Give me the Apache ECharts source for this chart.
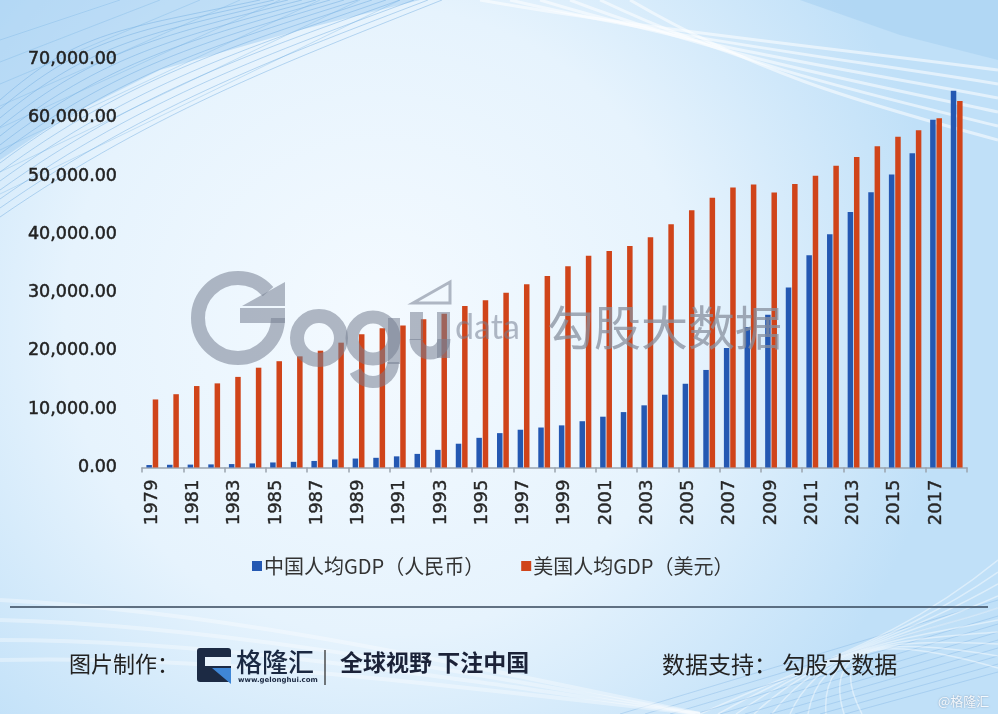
<!DOCTYPE html>
<html>
<head>
<meta charset="utf-8">
<script src="https://cdn.jsdelivr.net/npm/echarts@6/dist/echarts.min.js"></script>
<style>
html,body{margin:0;padding:0;background:#eaf5fd;}
#main{width:998px;height:714px;}
</style>
</head>
<body>
<div id="main"></div>
<script>
// ---- data ----
const years = ['1979','1980','1981','1982','1983','1984','1985','1986','1987','1988','1989','1990','1991','1992','1993','1994','1995','1996','1997','1998','1999','2000','2001','2002','2003','2004','2005','2006','2007','2008','2009','2010','2011','2012','2013','2014','2015','2016','2017','2018'];
const chinaGDP = [423,468,497,533,588,702,866,973,1123,1378,1536,1663,1912,2334,3027,4081,5091,5898,6481,6860,7229,7942,8717,9506,10666,12487,14368,16738,20505,24121,26222,30876,36403,40007,43852,47203,50251,53935,59660,64644];
const usGDP = [11674,12575,13976,14434,15544,17121,18237,19071,20039,21417,22857,23889,24342,25419,26387,27695,28691,29968,31459,32854,34515,36335,37133,38023,39496,41713,44115,46299,48050,48570,47195,48651,50066,51784,53291,55124,56763,57867,59915,62900];
const seriesNames = ['中国人均GDP（人民币）','美国人均GDP（美元）'];
const yMax = 70000, yStep = 10000;

// ---- decoration (background curves, not data) ----
const deco = [];
deco.push({type:'rect', z:-20, silent:true, shape:{x:0,y:0,width:998,height:714},
  style:{fill:{type:'radial',x:0.38,y:0.45,r:0.8,colorStops:[
    {offset:0,color:'#f4faff'},{offset:0.55,color:'#e6f3fd'},{offset:1,color:'#c0e0f8'}]}}});
// top-left blue band
deco.push({type:'polygon', z:-19, silent:true, shape:{points:[[0,0],[420,0],[300,30],[160,70],[60,120],[0,160]]},
  style:{fill:'rgba(150,200,240,0.45)'}});
for (let i=0;i<14;i++){
  const y0 = 100 + i*9, x1 = 260 + i*14;
  deco.push({type:'bezierCurve', z:-18, silent:true,
    shape:{x1:0,y1:y0,cpx1:80+i*6,cpy1:y0-70-i*3,cpx2:x1-140,cpy2:30+i*2,x2:x1,y2:0},
    style:{stroke:'rgba(110,170,225,0.45)',lineWidth:1,fill:null}});
}
for (let i=0;i<8;i++){
  deco.push({type:'line', z:-18, silent:true,
    shape:{x1:0,y1:40+i*22,x2:120+i*40,y2:0},
    style:{stroke:'rgba(120,180,230,0.35)',lineWidth:1}});
}
// top-right white streaks
for (let i=0;i<6;i++){
  deco.push({type:'bezierCurve', z:-18, silent:true,
    shape:{x1:480+i*30,y1:0,cpx1:650+i*20,cpy1:30+i*8,cpx2:850,cpy2:50+i*10,x2:998,y2:70+i*14},
    style:{stroke:'rgba(255,255,255,0.55)',lineWidth:3,fill:null}});
}
deco.push({type:'polygon', z:-19, silent:true, shape:{points:[[800,0],[998,0],[998,60],[900,35]]},
  style:{fill:'rgba(160,205,240,0.45)'}});
// bottom-right mesh
for (let i=0;i<10;i++){
  deco.push({type:'line', z:-18, silent:true,
    shape:{x1:620+i*25,y1:714,x2:998,y2:600+i*8},
    style:{stroke:'rgba(120,175,225,0.35)',lineWidth:1}});
  deco.push({type:'bezierCurve', z:-18, silent:true,
    shape:{x1:700+i*18,y1:714,cpx1:820,cpy1:660-i*3,cpx2:900,cpy2:640,x2:998,y2:560+i*12},
    style:{stroke:'rgba(255,255,255,0.45)',lineWidth:1.5,fill:null}});
}
// bottom-left light streaks
for (let i=0;i<4;i++){
  deco.push({type:'bezierCurve', z:-18, silent:true,
    shape:{x1:0,y1:600+i*20,cpx1:200,cpy1:610+i*15,cpx2:400,cpy2:650+i*10,x2:700,y2:714},
    style:{stroke:'rgba(255,255,255,0.35)',lineWidth:4,fill:null}});
}

// ---- watermark (on top of bars) ----
const wm = 'rgba(118,128,145,0.55)';
const watermark = [
  {type:'arc', z:50, silent:true, shape:{cx:238,cy:318,r:40,startAngle:0,endAngle:Math.PI*2-0.72,clockwise:true},
    style:{stroke:wm,lineWidth:14,fill:null}},
  {type:'rect', z:50, silent:true, shape:{x:240,y:308,width:45,height:15}, style:{fill:wm}},
  {type:'polygon', z:50, silent:true, shape:{points:[[242,306],[285,282],[285,306]]}, style:{fill:wm}},
  {type:'arc', z:50, silent:true, shape:{cx:319,cy:338,r:22,startAngle:0,endAngle:Math.PI*2}, style:{stroke:wm,lineWidth:14,fill:null}},
  {type:'arc', z:50, silent:true, shape:{cx:373,cy:338,r:21,startAngle:0,endAngle:Math.PI*2}, style:{stroke:wm,lineWidth:13,fill:null}},
  {type:'rect', z:50, silent:true, shape:{x:388,y:318,width:12,height:46}, style:{fill:wm}},
  {type:'arc', z:50, silent:true, shape:{cx:373,cy:362,r:20,startAngle:0,endAngle:Math.PI*0.85,clockwise:true}, style:{stroke:wm,lineWidth:12,fill:null}},
  {type:'rect', z:50, silent:true, shape:{x:410,y:312,width:13,height:28}, style:{fill:wm}},
  {type:'rect', z:50, silent:true, shape:{x:437,y:312,width:13,height:46}, style:{fill:wm}},
  {type:'arc', z:50, silent:true, shape:{cx:430,cy:339,r:14,startAngle:0,endAngle:Math.PI,clockwise:true}, style:{stroke:wm,lineWidth:13,fill:null}},
  {type:'polygon', z:50, silent:true, shape:{points:[[413,303],[450,282],[450,303]]}, style:{stroke:wm,lineWidth:3,fill:null}},
  {type:'text', z:50, silent:true, style:{x:455,y:328,text:'data',font:'34px Lato, "Noto Sans"',fill:wm,textVerticalAlign:'middle'}},
  {type:'text', z:50, silent:true, style:{x:547,y:327,text:'勾股大数据',font:'47px "Noto Sans CJK SC"',fill:'rgba(135,143,158,0.75)',textVerticalAlign:'middle'}}
];

// ---- footer ----
const footer = [
  {type:'line', z:5, silent:true, shape:{x1:10,y1:607,x2:988,y2:607}, style:{stroke:'#34465a',lineWidth:1.3}},
  {type:'text', z:5, silent:true, style:{x:69,y:664,text:'图片制作：',font:'22px "Noto Sans CJK SC"',fill:'#222',textVerticalAlign:'middle'}},
  {type:'rect', z:5, silent:true, shape:{x:197,y:648,width:34,height:34,r:3}, style:{fill:'#1c2a44'}},
  {type:'rect', z:6, silent:true, shape:{x:205,y:657,width:26,height:9}, style:{fill:'#e8f3fc'}},
  {type:'polygon', z:6, silent:true, shape:{points:[[212,668],[231,668],[231,684]]}, style:{fill:'#3f86d6'}},
  {type:'text', z:5, silent:true, style:{x:236,y:662,text:'格隆汇',font:'500 26px "Noto Sans CJK SC"',fill:'#1b2942',textVerticalAlign:'middle'}},
  {type:'text', z:5, silent:true, style:{x:238,y:680,text:'www.gelonghui.com',font:'bold 7px "DejaVu Sans"',fill:'#1b2942',textVerticalAlign:'middle'}},
  {type:'line', z:5, silent:true, shape:{x1:325,y1:650,x2:325,y2:685}, style:{stroke:'#222',lineWidth:1.2}},
  {type:'text', z:5, silent:true, style:{x:340,y:662,text:'全球视野 下注中国',font:'bold 23px "Noto Sans CJK SC"',fill:'#1b2238',textVerticalAlign:'middle'}},
  {type:'text', z:5, silent:true, style:{x:662,y:664,text:'数据支持： 勾股大数据',font:'23px "Noto Sans CJK SC"',fill:'#222',textVerticalAlign:'middle'}},
  {type:'text', z:5, silent:true, style:{x:938,y:701,text:'@格隆汇',font:'13px "Noto Sans CJK SC"',fill:'#f4f8fc',textVerticalAlign:'middle',textShadowColor:'rgba(80,100,130,0.6)',textShadowBlur:2}}
];

const chart = echarts.init(document.getElementById('main'), null, {renderer:'canvas'});
chart.setOption({
  backgroundColor:'transparent',
  animation:false,
  textStyle:{fontFamily:'"DejaVu Sans", "Noto Sans CJK SC"'},
  grid:{left:142,right:31,top:59.5,bottom:246.5,containLabel:false},
  legend:{
    left:247, top:551, icon:'rect', itemWidth:10, itemHeight:10, itemGap:37,
    textStyle:{fontFamily:'"Noto Sans CJK SC"',fontSize:20,color:'#333',padding:[0,0,0,-3]},
    data:seriesNames
  },
  xAxis:{
    type:'category', data:years,
    axisLine:{lineStyle:{color:'#9aa4ae',width:1.5}},
    axisTick:{show:true,interval:1,length:5,lineStyle:{color:'#9aa4ae',width:1.5}},
    axisLabel:{interval:1,rotate:90,margin:12,fontSize:18,color:'#262626',fontFamily:'"DejaVu Sans"',
      textBorderColor:'#262626',textBorderWidth:0.4}
  },
  yAxis:{
    type:'value', min:0, max:yMax, interval:yStep,
    axisLine:{show:false}, axisTick:{show:false}, splitLine:{show:false},
    axisLabel:{margin:25,fontSize:17.5,color:'#222',fontFamily:'"DejaVu Sans"',
      textBorderColor:'#222',textBorderWidth:0.5,
      formatter:v=>v.toLocaleString('en-US',{minimumFractionDigits:2,maximumFractionDigits:2})}
  },
  series:[
    {name:seriesNames[0],type:'bar',data:chinaGDP,barWidth:5.5,barGap:'15%',itemStyle:{color:'#2458b2'}},
    {name:seriesNames[1],type:'bar',data:usGDP,barWidth:5.5,barGap:'15%',itemStyle:{color:'#d0441a'}}
  ],
  graphic:{elements:deco.concat(watermark,footer)}
});
</script>
</body>
</html>
